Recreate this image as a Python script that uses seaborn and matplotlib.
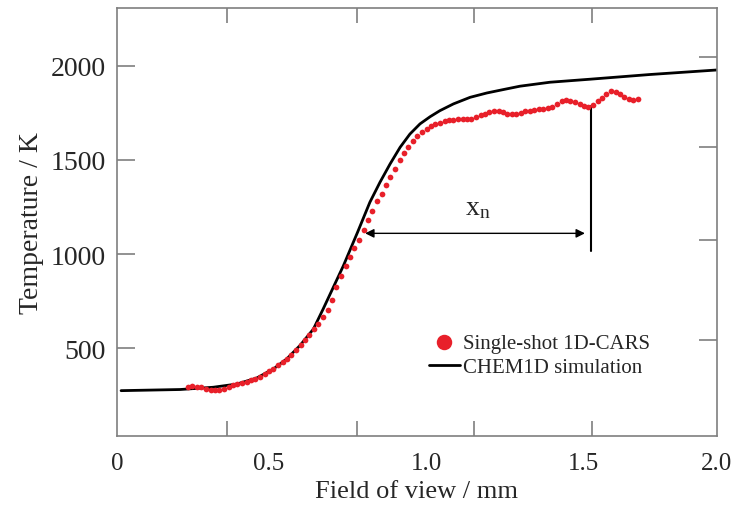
import numpy as np
import pandas as pd
import matplotlib
matplotlib.use('Agg')
import matplotlib.pyplot as plt
import seaborn as sns

# CHEM1D simulation (black line)
sim_x = [0.032, 0.219, 0.324, 0.399, 0.462, 0.515, 0.557, 0.599, 0.642, 0.673,
         0.737, 0.782, 0.821, 0.853, 0.885, 0.917, 0.948, 0.980, 1.012, 1.043,
         1.086, 1.139, 1.192, 1.244, 1.297, 1.392, 1.519, 1.709, 1.921]
sim_t = [275, 281, 293, 310, 342, 390, 443, 514, 602, 709,
         938, 1116, 1275, 1381, 1478, 1567, 1637, 1691, 1729, 1761,
         1797, 1832, 1855, 1873, 1891, 1912, 1928, 1953, 1977]

# single-shot 1D-CARS (red dots)
cars_x = [0.244, 0.258, 0.273, 0.287, 0.301, 0.316, 0.330, 0.344, 0.358, 0.373,
          0.387, 0.401, 0.415, 0.430, 0.444, 0.458, 0.473, 0.487, 0.501, 0.515,
          0.530, 0.544, 0.558, 0.572, 0.587, 0.601, 0.615, 0.629, 0.644, 0.658,
          0.672, 0.687, 0.701, 0.715, 0.729, 0.744, 0.758, 0.772, 0.786, 0.801,
          0.815, 0.829, 0.844, 0.858, 0.872, 0.886, 0.901, 0.915, 0.929, 0.943,
          0.958, 0.972, 0.986, 1.001, 1.015, 1.029, 1.043, 1.058, 1.072, 1.086,
          1.100, 1.115, 1.129, 1.143, 1.157, 1.172, 1.186, 1.200, 1.215, 1.229,
          1.243, 1.257, 1.272, 1.286, 1.300, 1.314, 1.329, 1.343, 1.357, 1.371,
          1.386, 1.400, 1.414, 1.429, 1.443, 1.457, 1.471, 1.486, 1.500, 1.514,
          1.528, 1.543, 1.557, 1.571, 1.585, 1.600, 1.614, 1.628, 1.643, 1.657,
          1.671]
cars_t = [297, 300, 297, 292, 284, 279, 276, 279, 284, 297,
          305, 308, 313, 321, 329, 337, 348, 361, 377, 390,
          409, 425, 443, 465, 490, 515, 543, 572, 600, 630,
          665, 705, 755, 825, 885, 937, 983, 1030, 1075, 1128,
          1181, 1231, 1279, 1319, 1364, 1407, 1452, 1497, 1539, 1570,
          1598, 1624, 1647, 1664, 1678, 1690, 1697, 1704, 1709, 1713,
          1716, 1716, 1716, 1717, 1725, 1736, 1746, 1754, 1760, 1760,
          1754, 1746, 1741, 1744, 1749, 1757, 1761, 1765, 1769, 1770,
          1773, 1781, 1794, 1810, 1820, 1815, 1805, 1794, 1786, 1783,
          1791, 1810, 1829, 1847, 1863, 1860, 1847, 1834, 1823, 1820,
          1823]

# x_n annotation
xn_start, xn_end, xn_level = 0.806, 1.503, 1110
xn_mark_x, xn_mark_lo, xn_mark_hi = 1.521, 1018, 1788

x_labels = ['0', '0.5', '1.0', '1.5', '2.0']
y_ticks = [500, 1000, 1500, 2000]

sns.set_style('ticks')
plt.rcParams.update({
    'font.family': ['Liberation Serif', 'DejaVu Serif'],
    'mathtext.fontset': 'custom',
    'mathtext.rm': 'Liberation Serif',
    'mathtext.it': 'Liberation Serif:italic',
})

red = '#e8202a'
axis_gray = '#7f7f7f'

fig = plt.figure(figsize=(7.33, 5.06), dpi=100)
ax = fig.add_axes([0.1596, 0.137, 0.8182, 0.8452])

df_sim = pd.DataFrame({'x': sim_x, 't': sim_t})
df_cars = pd.DataFrame({'x': cars_x, 't': cars_t})

sns.lineplot(data=df_sim, x='x', y='t', color='black', linewidth=2.0,
             estimator=None, ax=ax, label='CHEM1D simulation', zorder=2)
sns.scatterplot(data=df_cars, x='x', y='t', color=red, s=17, linewidth=0,
                ax=ax, label='Single-shot 1D-CARS', zorder=3)

# x_n arrow and marker line
ax.annotate('', xy=(xn_start, xn_level), xytext=(xn_end, xn_level),
            arrowprops=dict(arrowstyle='<|-|>', color='black', lw=1.0,
                            mutation_scale=13, shrinkA=0, shrinkB=0))
ax.plot([xn_mark_x, xn_mark_x], [xn_mark_lo, xn_mark_hi], color='black', lw=1.5)
ax.text((xn_start + xn_end) / 2 + 0.01, 1245, r'$\mathrm{x_n}$', fontsize=20,
        ha='center', va='center')

ax.set_xlim(0.019, 1.921)
ax.set_ylim(36, 2306)

# labels sit on a slightly different grid than the tick marks in the original
ax.set_xticks([0.019, 0.5, 1.0, 1.5, 1.921])
ax.set_xticklabels(x_labels)
ax.set_xticks([0.368, 0.780, 1.151, 1.526], minor=True)
ax.set_yticks(y_ticks)
ax.set_yticks([544, 1075, 1568, 2046], minor=True)

ax.tick_params(axis='x', which='major', length=0, labelsize=18, pad=12)
ax.tick_params(axis='x', which='minor', bottom=True, top=True, direction='in',
               length=11, width=1.2, color=axis_gray)
ax.tick_params(axis='y', which='major', left=True, right=False, direction='in',
               length=13, width=1.2, color=axis_gray, labelsize=20, pad=8)
ax.tick_params(axis='y', which='minor', left=False, right=True, direction='in',
               length=13, width=1.2, color=axis_gray)

for sp in ax.spines.values():
    sp.set_visible(True)
    sp.set_color(axis_gray)
    sp.set_linewidth(1.2)

ax.set_xlabel('Field of view / mm', fontsize=19, labelpad=4)
ax.set_ylabel('Temperature / K', fontsize=20, labelpad=5)

handles, labels = ax.get_legend_handles_labels()
order = [labels.index('Single-shot 1D-CARS'), labels.index('CHEM1D simulation')]
ax.legend([handles[i] for i in order], [labels[i] for i in order],
          loc='center left', bbox_to_anchor=(0.52, 0.188), frameon=False,
          fontsize=15, markerscale=2.7, handlelength=1.5, handletextpad=0.15,
          labelspacing=0.25, borderpad=0, borderaxespad=0)

fig.savefig('out.png', dpi=100)
